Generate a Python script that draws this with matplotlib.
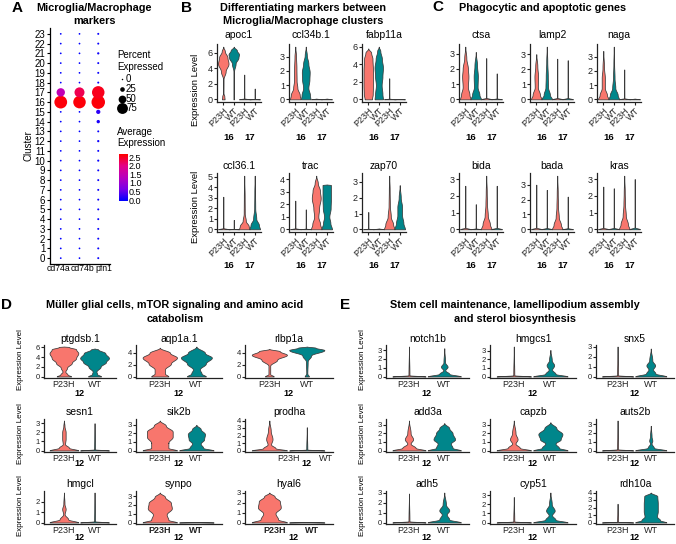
import numpy as np
import matplotlib
matplotlib.use("Agg")
import matplotlib.pyplot as plt
from matplotlib.colors import LinearSegmentedColormap

plt.rcParams["font.family"] = ["Liberation Sans", "DejaVu Sans"]

W, H = 676, 544

# ---------------- panel A: dot plot ----------------
CLUSTERS = list(range(24))
DOT_GENES = ["cd74a", "cd74b", "pfn1"]
pct_cd74a = [2, 2, 2, 2, 2, 2, 2, 2, 2, 2, 2, 2, 2, 2, 2, 2, 90, 55, 2, 2, 2, 2, 2, 2]
pct_cd74b = [2, 2, 2, 2, 2, 2, 2, 2, 2, 2, 2, 2, 2, 2, 2, 2, 88, 68, 2, 2, 2, 2, 2, 2]
pct_pfn1 = [4, 4, 4, 4, 4, 4, 4, 4, 4, 4, 5, 4, 6, 4, 15, 22, 96, 88, 4, 4, 4, 6, 4, 4]
avg_cd74a = [0, 0, 0, 0, 0, 0, 0, 0, 0, 0, 0, 0, 0, 0, 0, 0, 2.7, 1.5, 0, 0, 0, 0, 0, 0]
avg_cd74b = [0, 0, 0, 0, 0, 0, 0, 0, 0, 0, 0, 0, 0, 0, 0, 0, 2.7, 2.35, 0, 0, 0, 0, 0, 0]
avg_pfn1 = [0.05, 0.05, 0.05, 0.05, 0.05, 0.05, 0.05, 0.05, 0.05, 0.05, 0.05, 0.05,
            0.08, 0.05, 0.15, 0.25, 2.7, 2.6, 0.05, 0.05, 0.05, 0.08, 0.05, 0.05]
PCT_LEGEND = [0, 25, 50, 75]
AVG_TICKS = [0.0, 0.5, 1.0, 1.5, 2.0, 2.5]

# ---------------- violin panels ----------------
# a violin is a list of (expression, relative width) knots;
# a plain number is a spike (almost all zeros) reaching that value, 0 = flat
GROUPS4 = ["P23H", "WT", "P23H", "WT"]
GROUPS2 = ["P23H", "WT"]

B_GENES = [["apoc1", "ccl34b.1", "fabp11a"], ["ccl36.1", "trac", "zap70"]]
B_VIOLINS = {
    "apoc1": [[(0, 0.25), (0.4, 0.2), (0.8, 0.04), (2.6, 0.05), (3.6, 0.45), (4.6, 1.0),
               (5.4, 0.8), (6.2, 0.3), (6.8, 0)],
              [(0, 0.06), (3.6, 0.06), (4.6, 0.35), (5.4, 0.9), (5.8, 1.0), (6.3, 0.6), (6.8, 0)],
              3.2, 1.4],
    "ccl34b.1": [[(0, 1.0), (0.3, 0.85), (0.8, 0.4), (1.3, 0.25), (2.2, 0.22), (3.0, 0.15), (3.7, 0)],
                 [(0, 0.9), (0.3, 0.8), (0.8, 0.5), (1.4, 0.7), (1.9, 0.75), (2.5, 0.5), (3.1, 0.2),
                  (3.7, 0)],
                 0.0, 0.0],
    "fabp11a": [[(0, 0.7), (0.6, 0.85), (1.6, 0.9), (3.2, 0.9), (4.6, 0.8), (5.3, 0.55), (5.8, 0)],
                [(0, 0.8), (0.6, 0.7), (1.6, 0.55), (2.6, 0.7), (3.6, 0.8), (4.6, 0.6), (5.5, 0.3),
                 (6.0, 0)],
                2.4, 0.0],
    "ccl36.1": [3.1, 0.9,
                [(0, 1.0), (0.3, 0.85), (0.8, 0.3), (1.5, 0.1), (3.0, 0.08), (5.1, 0)],
                [(0, 1.0), (0.4, 0.8), (1.0, 0.3), (2.0, 0.1), (3.5, 0.07), (5.1, 0)]],
    "trac": [2.3, 1.6,
             [(0, 1.0), (0.4, 0.75), (1.0, 0.4), (1.7, 0.55), (2.5, 0.85), (3.1, 0.7), (3.7, 0.3),
              (4.3, 0)],
             [(0, 1.0), (0.5, 0.7), (1.0, 0.5), (1.7, 0.75), (2.4, 0.8), (3.55, 0.8), (3.6, 0)]],
    "zap70": [1.1, 0.0,
              [(0, 1.0), (0.3, 0.75), (0.8, 0.3), (1.5, 0.12), (2.5, 0.08), (3.4, 0)],
              [(0, 1.0), (0.4, 0.7), (0.9, 0.45), (1.4, 0.45), (2.0, 0.2), (2.8, 0)]],
}

C_GENES = [["ctsa", "lamp2", "naga"], ["bida", "bada", "kras"]]
C_VIOLINS = {
    "ctsa": [[(0, 1.0), (0.3, 0.8), (0.8, 0.5), (1.5, 0.6), (2.0, 0.5), (2.7, 0.2), (3.45, 0)],
             [(0, 1.0), (0.3, 0.7), (0.8, 0.35), (1.5, 0.4), (2.2, 0.25), (3.1, 0)],
             2.7, 1.7],
    "lamp2": [[(0, 1.0), (0.3, 0.7), (0.8, 0.3), (1.5, 0.35), (2.2, 0.2), (3.0, 0)],
              [(0, 1.0), (0.3, 0.6), (0.8, 0.25), (1.5, 0.2), (2.5, 0.1), (3.5, 0)],
              2.7, 2.6],
    "naga": [[(0, 1.0), (0.3, 0.7), (0.8, 0.3), (1.5, 0.3), (2.2, 0.15), (3.4, 0)],
             [(0, 1.0), (0.3, 0.75), (0.8, 0.3), (1.5, 0.15), (2.5, 0.07), (3.7, 0)],
             2.1, 0.0],
    "bida": [2.6, 1.5, [(0, 1.0), (0.3, 0.7), (0.8, 0.3), (1.5, 0.15), (2.2, 0.1), (3.2, 0)], 2.6],
    "bada": [3.0, 2.65, [(0, 1.0), (0.3, 0.7), (0.8, 0.3), (1.5, 0.15), (2.4, 0.1), (3.6, 0)], 2.2],
    "kras": [2.55, 2.45, [(0, 1.0), (0.3, 0.7), (0.8, 0.3), (1.5, 0.15), (2.2, 0.1), (3.2, 0)], 3.0],
}

D_GENES = [["ptgdsb.1", "aqp1a.1", "rlbp1a"], ["sesn1", "sik2b", "prodha"], ["hmgcl", "synpo", "hyal6"]]
D_VIOLINS = {
    "ptgdsb.1": [[(0, 0.5), (0.4, 0.25), (1.0, 0.1), (1.8, 0.22), (2.8, 0.55), (3.8, 0.85), (4.8, 1.0),
                  (5.6, 0.85), (6.1, 0.35), (6.2, 0)],
                 [(0, 0.45), (0.5, 0.18), (1.0, 0.13), (2.0, 0.42), (3.0, 0.8), (3.8, 1.0), (4.8, 0.75),
                  (5.6, 0.25), (5.8, 0)]],
    "aqp1a.1": [[(0, 0.5), (0.5, 0.3), (1.2, 0.3), (2.2, 0.65), (3.2, 1.0), (4.0, 0.6), (4.9, 0)],
                [(0, 0.55), (0.5, 0.3), (1.2, 0.2), (2.2, 0.55), (3.2, 0.9), (4.0, 0.5), (5.1, 0)]],
    "rlbp1a": [[(0, 0.25), (0.4, 0.05), (1.8, 0.05), (2.8, 0.45), (3.6, 1.0), (4.2, 0.6), (4.6, 0)],
               [(0, 0.12), (0.5, 0.03), (2.5, 0.05), (3.5, 0.25), (4.4, 1.0), (4.8, 0.5), (5.0, 0)]],
    "sesn1": [[(0, 1.0), (0.3, 0.35), (0.7, 0.08), (1.3, 0.12), (2.0, 0.12), (2.7, 0.04), (3.3, 0)], 3.0],
    "sik2b": [[(0, 1.0), (0.3, 0.5), (0.9, 0.5), (1.6, 0.75), (2.2, 0.75), (2.9, 0.35), (3.5, 0)],
              [(0, 1.0), (0.3, 0.4), (0.8, 0.25), (1.3, 0.45), (1.9, 0.5), (2.5, 0.25), (3.0, 0)]],
    "prodha": [[(0, 1.0), (0.3, 0.35), (0.8, 0.1), (1.5, 0.18), (2.6, 0.08), (4.0, 0)], 3.1],
    "hmgcl": [[(0, 1.0), (0.3, 0.3), (0.8, 0.05), (1.3, 0.12), (1.8, 0.04), (2.9, 0)], 2.9],
    "synpo": [[(0, 1.0), (0.3, 0.5), (0.9, 0.4), (1.6, 0.7), (2.2, 0.65), (2.9, 0.3), (3.4, 0)], 0.0],
    "hyal6": [[(0, 1.0), (0.3, 0.5), (0.9, 0.35), (1.5, 0.65), (2.1, 0.6), (2.6, 0.3), (3.0, 0)], 0.0],
}

E_GENES = [["notch1b", "hmgcs1", "snx5"], ["add3a", "capzb", "auts2b"], ["adh5", "cyp51", "rdh10a"]]
E_VIOLINS = {
    "notch1b": [3.4, [(0, 1.0), (0.3, 0.3), (0.7, 0.06), (1.1, 0.2), (1.6, 0.05), (3.2, 0)]],
    "hmgcs1": [3.5, [(0, 1.0), (0.3, 0.3), (0.8, 0.1), (1.3, 0.22), (1.9, 0.08), (3.1, 0)]],
    "snx5": [3.0, [(0, 1.0), (0.3, 0.3), (0.7, 0.15), (1.1, 0.28), (1.6, 0.1), (2.8, 0)]],
    "add3a": [[(0, 1.0), (0.3, 0.4), (0.8, 0.1), (1.3, 0.25), (2.0, 0.1), (3.5, 0)],
              [(0, 1.0), (0.3, 0.5), (0.8, 0.4), (1.3, 0.65), (2.0, 0.5), (2.6, 0.3), (3.2, 0)]],
    "capzb": [[(0, 1.0), (0.3, 0.35), (0.8, 0.1), (1.3, 0.22), (2.0, 0.1), (3.5, 0)],
              [(0, 1.0), (0.3, 0.5), (0.8, 0.3), (1.3, 0.6), (1.9, 0.7), (2.6, 0.35), (3.3, 0)]],
    "auts2b": [3.4, [(0, 1.0), (0.3, 0.2), (0.8, 0.05), (1.1, 0.1), (1.6, 0.05), (2.8, 0)]],
    "adh5": [2.9, [(0, 1.0), (0.3, 0.3), (0.8, 0.15), (1.2, 0.3), (1.8, 0.1), (3.0, 0)]],
    "cyp51": [2.8, [(0, 1.0), (0.3, 0.3), (0.8, 0.1), (1.3, 0.25), (2.0, 0.08), (3.3, 0)]],
    "rdh10a": [2.5, [(0, 1.0), (0.3, 0.6), (0.8, 0.4), (1.5, 0.45), (2.5, 0.45), (3.5, 0.42), (4.0, 0)]],
}

TICK_STEP = {"apoc1": 2, "fabp11a": 2, "ptgdsb.1": 2, "aqp1a.1": 2, "rlbp1a": 2}

P23H_COL = "#F8766D"
WT_COL = "#00868B"
EDGE = "#3a3a3a"
COLS4 = [P23H_COL, WT_COL, P23H_COL, WT_COL]
COLS2 = [P23H_COL, WT_COL]

fig = plt.figure(figsize=(W / 100, H / 100), dpi=100)
over = fig.add_axes([0, 0, 1, 1])
over.set_xlim(0, W)
over.set_ylim(H, 0)
over.axis("off")


def rect(l, t, w, h):
    return [l / W, 1 - (t + h) / H, w / W, h / H]


def txt(x, y, s, **kw):
    kw.setdefault("ha", "center")
    kw.setdefault("va", "center")
    over.text(x, y, s, **kw)


def shape_top(s):
    if isinstance(s, (int, float)):
        return float(s)
    return s[-1][0]


def knots_of(s):
    if isinstance(s, (int, float)):
        if s <= 0:
            return [(0, 1.0), (0.06, 0.0)]
        return [(0, 1.0), (0.04 * s, 0.03), (s, 0.0)]
    return s


def profile(knots):
    ys, ws = [], []
    for (y0, w0), (y1, w1) in zip(knots[:-1], knots[1:]):
        t = np.linspace(0, 1, 14)
        sm = (1 - np.cos(np.pi * t)) / 2
        ys.append(y0 + (y1 - y0) * t)
        ws.append(w0 + (w1 - w0) * sm)
    return np.concatenate(ys), np.concatenate(ws)


def style(ax, top, step, fs):
    for sp in ["top", "right"]:
        ax.spines[sp].set_visible(False)
    for sp in ["left", "bottom"]:
        ax.spines[sp].set_linewidth(0.9)
        ax.spines[sp].set_color("#222222")
    ax.set_ylim(-0.05 * top, 1.05 * top)
    ax.set_yticks(np.arange(0, top + 1e-9, step))
    ax.set_yticklabels([str(int(v)) for v in np.arange(0, top + 1e-9, step)])
    ax.tick_params(axis="y", length=2, width=0.8, pad=1, labelsize=fs, colors="#222222")
    ax.tick_params(axis="x", length=2, width=0.8, pad=1, colors="#222222")


def violin_axes(l, t, w, h, shapes, cols, half, xlim):
    ax = fig.add_axes(rect(l, t, w, h))
    top = max(shape_top(s) for s in shapes)
    for i, (s, c) in enumerate(zip(shapes, cols)):
        y, wd = profile(knots_of(s))
        ax.fill_betweenx(y, i + 1 - wd * half, i + 1 + wd * half, facecolor=c,
                         edgecolor=EDGE, linewidth=0.55)
    ax.set_xlim(*xlim)
    return ax, top


# ---------------- panel A ----------------
cmap = LinearSegmentedColormap.from_list(
    "bluered", ["#0000FF", "#7A00E8", "#B800BE", "#E30089", "#FF0000"])
VMAX = 2.75


def dot_size(p):
    d = 1.5 + 0.125 * np.asarray(p, dtype=float)
    return (d * 0.72) ** 2


axA = fig.add_axes(rect(49.5, 28, 60, 236))
for gi, (pct, avg) in enumerate([(pct_cd74a, avg_cd74a), (pct_cd74b, avg_cd74b), (pct_pfn1, avg_pfn1)]):
    axA.scatter([gi + 1] * len(CLUSTERS), CLUSTERS, s=dot_size(pct), c=avg, cmap=cmap,
                vmin=0, vmax=VMAX, linewidths=0)
axA.set_xlim(0.4, 3.6)
axA.set_ylim(-0.6, 23.6)
axA.set_yticks(CLUSTERS)
axA.set_yticklabels([str(c) for c in CLUSTERS])
axA.set_xticks([])
for sp in ["top", "right"]:
    axA.spines[sp].set_visible(False)
for sp in ["left", "bottom"]:
    axA.spines[sp].set_linewidth(0.9)
axA.tick_params(axis="y", length=2, width=0.8, pad=1, labelsize=7)
for xp, g in zip([58, 82.8, 104.3], DOT_GENES):
    txt(xp, 268.5, g, fontsize=6.2)
txt(28, 146, "Cluster", rotation=90, fontsize=7)

txt(17, 8, "A", fontsize=11, fontweight="bold")
txt(94, 7.6, "Microglia/Macrophage", fontsize=7.8, fontweight="bold")
txt(94, 20.8, "markers", fontsize=7.8, fontweight="bold")

txt(117, 55, "Percent", fontsize=7, ha="left")
txt(117, 67, "Expressed", fontsize=7, ha="left")
for p, yy in zip(PCT_LEGEND, [79, 89, 99, 108]):
    over.scatter([121.5], [yy], s=dot_size([p]), color="black", linewidths=0)
    txt(126, yy, str(p), fontsize=7, ha="left")
txt(117, 132, "Average", fontsize=7, ha="left")
txt(117, 143, "Expression", fontsize=7, ha="left")
cb = fig.add_axes(rect(118.5, 154, 8.5, 47))
cb.imshow(np.linspace(0, VMAX, 100)[:, None], aspect="auto", cmap=cmap, origin="lower",
          extent=(0, 1, 0, VMAX), vmin=0, vmax=VMAX)
cb.set_xticks([])
cb.set_yticks([])
for sp in cb.spines.values():
    sp.set_visible(False)
for v in AVG_TICKS:
    txt(129, 201 - v / VMAX * 47, "%.1f" % v, fontsize=6.5, ha="left")

# ---------------- panels B and C ----------------
BC_ROWS = [(44, 58), (173, 59)]
BC_TITLE_Y = [35, 166]
BC_GROUP_Y = [137, 266]
BC_W = 44
BC_XLIM = (0.4, 4.6)

for genes_rows, violins, lefts in [(B_GENES, B_VIOLINS, [217, 289, 362]),
                                   (C_GENES, C_VIOLINS, [459, 530, 597])]:
    for r, genes in enumerate(genes_rows):
        t, h = BC_ROWS[r]
        for c, gene in enumerate(genes):
            l = lefts[c]
            ax, top = violin_axes(l, t, BC_W, h, violins[gene], COLS4, 0.5, BC_XLIM)
            style(ax, top, TICK_STEP.get(gene, 1), 6.5)
            ax.set_xticks([1, 2, 3, 4])
            ax.set_xticklabels(GROUPS4, rotation=45, ha="right", rotation_mode="anchor",
                               fontsize=6.5)
            txt(l + BC_W / 2, BC_TITLE_Y[r], gene, fontsize=7.5)
            for xv, lab in [(1.5, "16"), (3.5, "17")]:
                xp = l + (xv - BC_XLIM[0]) / (BC_XLIM[1] - BC_XLIM[0]) * BC_W
                txt(xp, BC_GROUP_Y[r], lab, fontsize=6.8, fontweight="bold")

txt(195, 90, "Expression Level", rotation=90, fontsize=6.8)
txt(195, 207, "Expression Level", rotation=90, fontsize=6.8)
txt(186, 8, "B", fontsize=11, fontweight="bold")
txt(303, 7.6, "Differentiating markers between", fontsize=7.8, fontweight="bold")
txt(303, 20.8, "Microglia/Macrophage clusters", fontsize=7.8, fontweight="bold")
txt(437.5, 7, "C", fontsize=11, fontweight="bold")
txt(543, 7.6, "Phagocytic and apoptotic genes", fontsize=7.8, fontweight="bold")

# ---------------- panels D and E ----------------
DE_ROWS = [(345, 33), (419, 33), (491, 33)]
DE_TITLE_Y = [339, 412, 484]
DE_GROUP_Y = [393, 464, 537]
DE_XLIM = (0.35, 2.7)
LABEL_BOLD = {"synpo", "hyal6"}
LABEL_SHIFT = {"prodha": 0.5, "hyal6": 0.15}

for genes_rows, violins, lefts, widths, ylab_x in [
        (D_GENES, D_VIOLINS, [44, 136, 245], [72, 86, 88], 20),
        (E_GENES, E_VIOLINS, [386, 490, 596], [83, 86, 78], 363)]:
    for r, genes in enumerate(genes_rows):
        t, h = DE_ROWS[r]
        for c, gene in enumerate(genes):
            l, w = lefts[c], widths[c]
            ax, top = violin_axes(l, t, w, h, violins[gene], COLS2, 0.47, DE_XLIM)
            style(ax, top, TICK_STEP.get(gene, 1), 5.5)
            sh = LABEL_SHIFT.get(gene, 0.0)
            ax.set_xticks([1 + sh, 2 + sh])
            ax.set_xticklabels(GROUPS2, fontsize=6.5,
                               fontweight="bold" if gene in LABEL_BOLD else "normal")
            ax.tick_params(axis="x", length=0, pad=1.5)
            txt(l + w / 2, DE_TITLE_Y[r], gene, fontsize=7.5)
            xp = l + (1.5 + sh - DE_XLIM[0]) / (DE_XLIM[1] - DE_XLIM[0]) * w
            txt(xp, DE_GROUP_Y[r], "12", fontsize=6.5, fontweight="bold")
        txt(ylab_x, t + h / 2 - 2, "Expression Level", rotation=90, fontsize=5.8)

txt(6.5, 305, "D", fontsize=11, fontweight="bold")
txt(175, 305.5, "Müller glial cells, mTOR signaling and amino acid", fontsize=7.8, fontweight="bold")
txt(175, 318.5, "catabolism", fontsize=7.8, fontweight="bold")
txt(345, 305, "E", fontsize=11, fontweight="bold")
txt(515, 305.5, "Stem cell maintenance, lamellipodium assembly", fontsize=7.8, fontweight="bold")
txt(515, 318.5, "and sterol biosynthesis", fontsize=7.8, fontweight="bold")

fig.savefig("out.png", dpi=100)
